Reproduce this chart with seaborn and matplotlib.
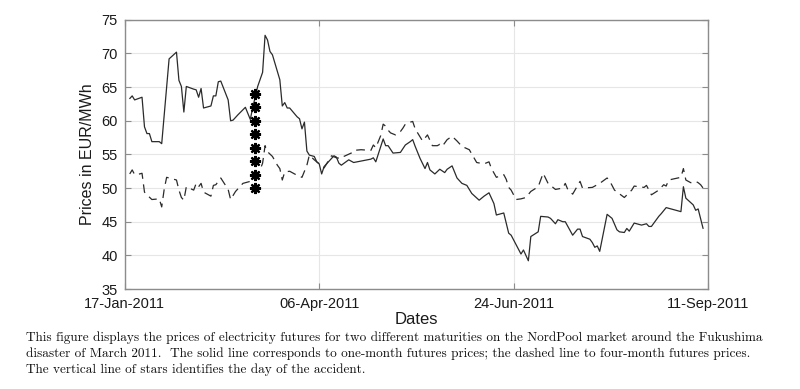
import pandas as pd
import numpy as np
import matplotlib
matplotlib.use("Agg")
import matplotlib.pyplot as plt
import matplotlib.dates as mdates
import seaborn as sns

# Days counted from 17-Jan-2011
start_date = "2011-01-17"

one_month_day = [2, 3, 4, 7, 8, 9, 10, 11, 14, 15, 18, 21, 22, 23, 24, 25, 28, 29, 30, 31,
                 32, 35, 36, 37, 38, 39, 42, 43, 44, 46, 49, 51, 52, 54, 56, 57, 58, 59, 60, 63,
                 64, 65, 66, 67, 70, 71, 72, 73, 74, 75, 77, 78, 79, 80, 81, 85, 86, 87, 88, 91,
                 93, 100, 101, 102, 105, 106, 107, 109, 112, 114, 116, 117, 118, 120, 122, 123, 124, 126, 128, 130,
                 131, 133, 135, 137, 139, 141, 144, 146, 148, 150, 151, 154, 156, 157, 161, 162, 164, 165, 168, 169,
                 172, 173, 175, 176, 178, 179, 182, 184, 185, 186, 189, 190, 191, 192, 193, 196, 198, 200, 201, 203,
                 204, 205, 207, 210, 212, 213, 214, 217, 218, 220, 226, 227, 228, 231, 232, 233, 235]
one_month_price = [63.3, 63.7, 63.1, 63.5, 59.1, 58.1, 58.1, 56.9, 56.9, 56.6, 69.2, 70.2, 66.0, 65.1, 61.3, 65.1, 64.7, 64.6, 63.5, 64.8,
                   61.9, 62.2, 63.7, 63.7, 65.8, 65.9, 63.1, 60.0, 60.1, 60.9, 62.0, 60.2, 62.0, 65.1, 67.2, 72.7, 72.0, 70.3, 69.8, 66.1,
                   62.2, 62.7, 61.9, 61.9, 60.6, 60.3, 58.8, 59.8, 55.5, 54.9, 54.7, 53.9, 53.6, 52.1, 53.2, 54.8, 54.6, 53.7, 53.4, 54.2,
                   53.8, 54.3, 54.5, 53.9, 57.3, 56.3, 56.3, 55.2, 55.3, 56.4, 56.9, 57.2, 56.2, 54.4, 52.9, 53.8, 52.7, 52.1, 52.8, 52.3,
                   52.8, 53.3, 51.5, 50.7, 50.4, 49.2, 48.2, 48.8, 49.3, 47.7, 46.0, 46.3, 43.3, 43.0, 40.2, 40.8, 39.2, 42.8, 43.5, 45.8,
                   45.7, 45.5, 44.7, 45.3, 45.0, 45.0, 43.0, 43.9, 43.9, 42.8, 42.4, 41.9, 41.2, 41.4, 40.6, 46.1, 45.5, 43.8, 43.5, 43.4,
                   44.0, 43.6, 44.8, 44.5, 44.7, 44.3, 44.3, 45.8, 46.2, 47.1, 46.5, 50.2, 48.5, 47.5, 46.7, 46.9, 44.0]

four_month_day = [2, 3, 4, 6, 7, 8, 9, 11, 14, 15, 16, 17, 20, 21, 22, 23, 24, 25, 28, 29,
                  30, 31, 32, 35, 36, 37, 38, 39, 42, 43, 45, 48, 49, 51, 54, 56, 57, 58, 60, 62,
                  63, 64, 65, 67, 70, 72, 74, 75, 77, 79, 81, 84, 86, 88, 89, 92, 93, 96, 100, 101,
                  102, 104, 105, 106, 107, 108, 110, 112, 113, 114, 115, 117, 118, 121, 123, 125, 127, 128, 129, 131,
                  133, 135, 137, 140, 143, 146, 148, 149, 151, 154, 155, 156, 157, 159, 161, 163, 165, 168, 170, 172,
                  175, 178, 179, 180, 182, 185, 186, 190, 193, 196, 197, 199, 203, 206, 207, 209, 211, 212, 214, 217,
                  219, 220, 221, 226, 227, 228, 230, 232, 233, 234, 235]
four_month_price = [52.1, 52.7, 52.0, 52.1, 52.2, 49.4, 49.0, 48.3, 48.4, 47.2, 49.8, 51.6, 51.3, 51.2, 49.7, 48.6, 48.2, 50.2, 49.7, 50.7,
                    50.2, 50.7, 49.4, 48.8, 50.4, 50.5, 51.0, 51.5, 49.8, 48.3, 49.5, 50.7, 50.8, 51.0, 51.8, 53.7, 56.3, 55.4, 54.7, 53.4,
                    52.9, 51.2, 52.4, 52.5, 51.9, 51.6, 53.4, 54.9, 54.2, 53.6, 53.0, 54.8, 54.5, 54.4, 54.7, 55.2, 55.6, 55.7, 55.6, 56.4,
                    56.0, 57.8, 59.5, 59.2, 58.6, 58.2, 57.9, 58.4, 58.9, 59.5, 59.7, 59.9, 58.8, 57.0, 57.9, 56.3, 56.3, 56.5, 56.2, 57.2,
                    57.7, 57.0, 56.2, 55.7, 53.8, 53.6, 53.9, 52.9, 51.6, 52.0, 51.3, 50.1, 49.7, 48.3, 48.4, 48.6, 49.5, 50.2, 52.2, 50.7,
                    49.8, 50.0, 50.7, 49.8, 49.1, 51.0, 50.0, 50.1, 50.7, 51.5, 51.1, 49.7, 48.6, 49.7, 50.3, 50.2, 50.1, 50.4, 49.0, 49.7,
                    50.5, 50.3, 51.2, 51.6, 52.9, 51.2, 50.8, 51.0, 50.8, 50.5, 50.0]

accident_date = "2011-03-11"
star_levels = [50, 52, 54, 56, 58, 60, 62, 64]

tick_dates = ["2011-01-17", "2011-04-06", "2011-06-24", "2011-09-11"]

caption_lines = [
    "This figure displays the prices of electricity futures for two different maturities on the NordPool market around the Fukushima",
    "disaster of March 2011.  The solid line corresponds to one-month futures prices; the dashed line to four-month futures prices.",
    "The vertical line of stars identifies the day of the accident.",
]

base = pd.Timestamp(start_date)
df_one = pd.DataFrame({"date": base + pd.to_timedelta(one_month_day, unit="D"),
                       "price": one_month_price})
df_four = pd.DataFrame({"date": base + pd.to_timedelta(four_month_day, unit="D"),
                        "price": four_month_price})

sns.set_theme(style="whitegrid")
plt.rcParams["font.family"] = ["Liberation Sans", "DejaVu Sans"]

fig = plt.figure(figsize=(8, 3.89), dpi=100)
ax = fig.add_axes([0.156, 0.257, 0.729, 0.692])

line_color = "#2b2b2b"
sns.lineplot(data=df_one, x="date", y="price", ax=ax, color=line_color, linewidth=0.9)
sns.lineplot(data=df_four, x="date", y="price", ax=ax, color=line_color, linewidth=0.9)
ax.lines[-1].set_dashes((7, 4.5))

# day of the accident
ax.plot([pd.Timestamp(accident_date)] * len(star_levels), star_levels, linestyle="none",
        marker=(8, 2, 0), markersize=8, markeredgewidth=1.6, color="black")

ax.set_xlim(pd.Timestamp(tick_dates[0]), pd.Timestamp(tick_dates[-1]))
ax.set_ylim(35, 75)
ax.set_yticks(np.arange(35, 76, 5))
ax.set_xticks([pd.Timestamp(d) for d in tick_dates])
ax.xaxis.set_major_formatter(mdates.DateFormatter("%d-%b-%Y"))

ax.grid(True, color="#e6e6e6", linewidth=0.8)
for s in ax.spines.values():
    s.set_color("#8c8c8c")
    s.set_linewidth(1.0)
ax.tick_params(axis="both", which="both", direction="in", length=4, width=0.8,
               color="#8c8c8c", labelsize=10.5, labelcolor="#1a1a1a",
               top=True, right=True, bottom=True, left=True)
ax.tick_params(axis="x", pad=5.5)
ax.tick_params(axis="y", pad=5)
ax.set_xlabel("Dates", fontsize=12, color="#1a1a1a", labelpad=1)
ax.set_ylabel("Prices in EUR/MWh", fontsize=11.5, color="#1a1a1a", labelpad=5)

for i, txt in enumerate(caption_lines):
    fig.text(26 / 800, 1 - (338 + 15.7 * i) / 389, txt, family="cmr10", fontsize=9.55,
             color="#111111", va="center", ha="left")

fig.savefig("out.png", dpi=100)
